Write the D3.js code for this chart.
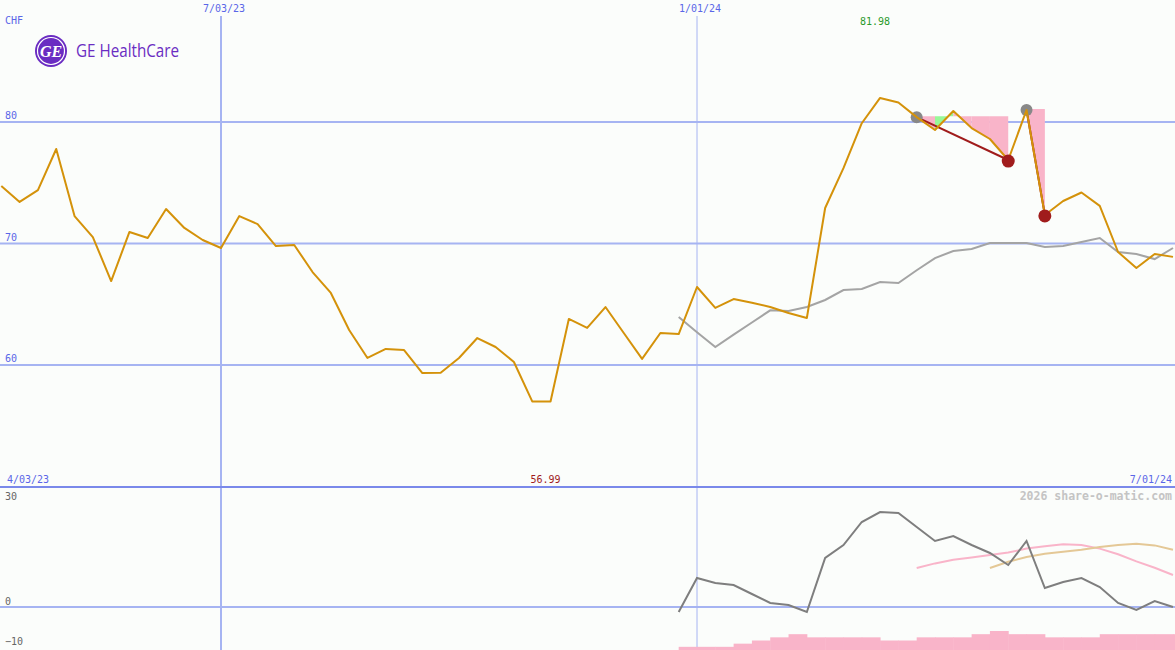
<!DOCTYPE html>
<html>
<head>
<meta charset="utf-8">
<script src="https://cdn.jsdelivr.net/npm/d3@7"></script>
<style>
html,body{margin:0;padding:0;background:#fbfdfb;}
svg{display:block;}
</style>
</head>
<body>
<svg id="chart" width="1175" height="650"></svg>
<script>
// ---------- DATA ----------
const firstWeek = "2023-04-10";           // date of the first weekly close
const price = [74.73,73.42,74.40,77.78,72.26,70.53,66.91,70.95,70.45,72.84,
               71.28,70.29,69.63,72.26,71.60,69.79,69.88,67.65,65.93,62.88,
               60.58,61.32,61.23,59.34,59.37,60.58,62.22,61.48,60.25,57.00,
               56.99,63.79,63.05,64.77,62.63,60.50,62.63,62.55,66.42,64.70,
               65.43,65.13,64.77,64.28,63.87,72.92,76.20,79.90,81.98,81.60,
               80.40,79.34,80.90,79.50,78.60,76.87,80.99,72.35,73.50,74.20,
               73.10,69.30,67.98,69.14,68.90];
const maStart = 37;
const maValues = [63.95,62.70,61.48,62.50,63.50,64.50,64.44,64.77,65.35,66.17,
                  66.26,66.83,66.75,67.80,68.80,69.38,69.55,70.04,70.04,70.04,
                  69.71,69.79,70.12,70.45,69.30,69.14,68.72,69.63];
const momStart = 37;
const momValues = [-1.25,7.25,6.0,5.5,3.25,1.0,0.5,-1.25,12.25,15.5,
                   21.25,23.75,23.5,20.0,16.5,17.75,15.5,13.5,10.5,16.5,
                   4.75,6.25,7.25,5.0,1.0,-0.75,1.5,0.0];
const pinkStart = 50;
const pinkValues = [9.75,10.9,11.8,12.4,13.0,13.6,14.6,15.2,15.7,15.5,14.6,13.2,11.4,9.8,8.0];
const tanStart = 54;
const tanValues = [9.75,11.3,12.5,13.3,13.8,14.3,15.0,15.5,15.8,15.4,14.3];
const barStart = 37;
const barValues = [1,1,1,2,3,4,5,4,4,4,4,3,3,4,4,4,5,6,5,5,4,4,4,5,5,5,5,5];
const signalFrom = [50, 56];   // grey markers (week index)
const signalTo   = [55, 57];   // red markers (week index)
const mainTicks = [80, 70, 60];
const lowTicks = [30, 0, -10];
const topDateTicks = ["2023-07-03", "2024-01-01"];
const topDateLabels = ["7/03/23", "1/01/24"];
const cornerLabels = ["4/03/23", "7/01/24"];
const currency = "CHF";
const brand = "GE HealthCare";
const credit = "2026 share-o-matic.com";

// ---------- SETUP ----------
const W = 1175, H = 650;
const MONO = "'DejaVu Sans Mono','Liberation Mono',monospace";
const svg = d3.select("#chart");
svg.append("rect").attr("width", W).attr("height", H).attr("fill", "#fbfdfb");

const parse = s => new Date(s + "T00:00:00Z");
const t0 = parse(firstWeek);
const weekDate = i => d3.utcDay.offset(t0, i * 7);

const x = d3.scaleUtc().domain([parse("2023-07-03"), parse("2024-01-01")]).range([221, 697]);
const yMain = d3.scaleLinear().domain([60, 80]).range([365, 122]);
const yLow = d3.scaleLinear().domain([0, 30]).range([607, 487]);
const yBar = d3.scaleLinear().domain([0, 6]).range([650, 631]);
const xi = i => x(weekDate(i));

const defs = svg.append("defs");
defs.append("clipPath").attr("id", "cm").append("rect").attr("x", 0).attr("y", 0).attr("width", W).attr("height", 486);
defs.append("clipPath").attr("id", "cl").append("rect").attr("x", 0).attr("y", 488).attr("width", W).attr("height", 162);

const gridCol = "#a6b4f2";
const labCol = "#5a66e8";
const txt = (sel) => sel.style("font-family", MONO).attr("font-size", 10);

// horizontal grid (main)
svg.append("g").selectAll("line").data(mainTicks).join("line")
  .attr("x1", 0).attr("x2", W)
  .attr("y1", d => yMain(d)).attr("y2", d => yMain(d))
  .attr("stroke", gridCol).attr("stroke-width", 2);
svg.append("g").selectAll("text").data(mainTicks).join("text")
  .attr("x", 5).attr("y", d => yMain(d) - 3)
  .call(txt).attr("fill", labCol).text(d => d);

// lower panel zero line
svg.append("line").attr("x1", 0).attr("x2", W).attr("y1", yLow(0)).attr("y2", yLow(0))
  .attr("stroke", gridCol).attr("stroke-width", 2);

// vertical date lines
svg.append("g").selectAll("line").data(topDateTicks).join("line")
  .attr("x1", d => x(parse(d))).attr("x2", d => x(parse(d)))
  .attr("y1", 16).attr("y2", H)
  .attr("stroke", gridCol).attr("stroke-width", (d, i) => i === 0 ? 2 : 1);
svg.append("g").selectAll("text").data(topDateTicks).join("text")
  .attr("x", d => x(parse(d)) + 3).attr("y", 12)
  .attr("text-anchor", "middle").call(txt).attr("fill", labCol)
  .text((d, i) => topDateLabels[i]);

// separator
svg.append("line").attr("x1", 0).attr("x2", W).attr("y1", 487).attr("y2", 487)
  .attr("stroke", "#7a89ea").attr("stroke-width", 2);

// corner labels
svg.append("text").attr("x", 7).attr("y", 483).call(txt).attr("fill", labCol).text(cornerLabels[0]);
svg.append("text").attr("x", 1172).attr("y", 483).attr("text-anchor", "end").call(txt).attr("fill", labCol).text(cornerLabels[1]);
svg.append("text").attr("x", 5).attr("y", 24).call(txt).attr("fill", labCol).text(currency);

// lower tick labels
svg.append("g").selectAll("text").data(lowTicks).join("text")
  .attr("x", 5).attr("y", d => d === 30 ? 500 : (d === 0 ? 605 : 645))
  .call(txt).attr("fill", "#666").text(d => d < 0 ? "\u2212" + Math.abs(d) : d);

// credit
svg.append("text").attr("x", 1172).attr("y", 500).attr("text-anchor", "end")
  .style("font-family", MONO).attr("font-size", 11.5).attr("font-weight", "bold")
  .attr("fill", "#c4c4c4").text(credit);

// logo
const logo = svg.append("g");
logo.append("circle").attr("cx", 51).attr("cy", 51).attr("r", 16).attr("fill", "#6a2cc2");
logo.append("circle").attr("cx", 51).attr("cy", 51).attr("r", 13.5).attr("fill", "none").attr("stroke", "#fff").attr("stroke-width", 1.2);
logo.append("text").attr("x", 51).attr("y", 57).attr("text-anchor", "middle")
  .style("font-family", "'Liberation Serif',serif").attr("font-style", "italic").attr("font-weight", "bold")
  .attr("font-size", 16).attr("fill", "#fff").text("GE");
logo.append("text").attr("x", 76).attr("y", 57)
  .style("font-family", "'Open Sans','Noto Sans',sans-serif").attr("font-size", 18)
  .attr("textLength", 103).attr("lengthAdjust", "spacingAndGlyphs")
  .attr("fill", "#6a2cc2").text(brand);

// ---------- MAIN PANEL ----------
const gm = svg.append("g").attr("clip-path", "url(#cm)");

// signal fills
signalFrom.forEach((s, k) => {
  const e = signalTo[k];
  const ref = yMain(price[s]) - 1;
  for (let i = s; i < e; i++) {
    const pts = [[xi(i), ref], [xi(i), yMain(price[i])], [xi(i + 1), yMain(price[i + 1])], [xi(i + 1), ref]];
    gm.append("polygon").attr("points", pts.map(p => p.join(",")).join(" "))
      .attr("fill", price[i + 1] > price[i] ? "#98f898" : "#f9b4c9");
  }
});
// signal lines
signalFrom.forEach((s, k) => {
  const e = signalTo[k];
  gm.append("line").attr("x1", xi(s)).attr("y1", yMain(price[s]))
    .attr("x2", xi(e)).attr("y2", yMain(price[e]))
    .attr("stroke", "#a01c1c").attr("stroke-width", 2);
});

const maLine = d3.line().x((d, i) => xi(maStart + i)).y(d => yMain(d));
gm.append("path").attr("d", maLine(maValues)).attr("fill", "none")
  .attr("stroke", "#a4a4a4").attr("stroke-width", 2);

// markers (under price line for grey)
gm.selectAll("circle.g").data(signalFrom).join("circle").attr("class", "g")
  .attr("cx", d => xi(d)).attr("cy", d => yMain(price[d])).attr("r", 6).attr("fill", "#888");

const pLine = d3.line().x((d, i) => xi(i)).y(d => yMain(d));
gm.append("path").attr("d", pLine(price)).attr("fill", "none")
  .attr("stroke", "#d4920a").attr("stroke-width", 2).attr("stroke-linejoin", "round");

gm.selectAll("circle.r").data(signalTo).join("circle").attr("class", "r")
  .attr("cx", d => xi(d)).attr("cy", d => yMain(price[d]) + 1).attr("r", 6.5).attr("fill", "#a01c1c");

// high / low labels
const iMax = d3.maxIndex(price), iMin = d3.minIndex(price);
svg.append("text").attr("x", xi(iMax) - 5).attr("y", 25).attr("text-anchor", "middle")
  .call(txt).attr("fill", "#2a9a2a").text(price[iMax].toFixed(2));
svg.append("text").attr("x", xi(iMin) - 5).attr("y", 483).attr("text-anchor", "middle")
  .call(txt).attr("fill", "#a01c1c").text(price[iMin].toFixed(2));

// ---------- LOWER PANEL ----------
const gl = svg.append("g").attr("clip-path", "url(#cl)");
const step = barValues.map((v, k) => ({i: barStart + k, v}));
gl.selectAll("rect.b").data(step).join("rect").attr("class", "b")
  .attr("x", d => xi(d.i)).attr("width", d => xi(d.i + 1) - xi(d.i) + 0.5)
  .attr("y", d => yBar(d.v)).attr("height", d => 650 - yBar(d.v))
  .attr("fill", "#f9b4c9");

const lowLine = start => d3.line().x((d, i) => xi(start + i)).y(d => yLow(d));
gl.append("path").attr("d", lowLine(pinkStart)(pinkValues)).attr("fill", "none")
  .attr("stroke", "#f9b4c9").attr("stroke-width", 2);
gl.append("path").attr("d", lowLine(tanStart)(tanValues)).attr("fill", "none")
  .attr("stroke", "#e4c896").attr("stroke-width", 2);
gl.append("path").attr("d", lowLine(momStart)(momValues)).attr("fill", "none")
  .attr("stroke", "#7e7e7e").attr("stroke-width", 2);
</script>
</body>
</html>
